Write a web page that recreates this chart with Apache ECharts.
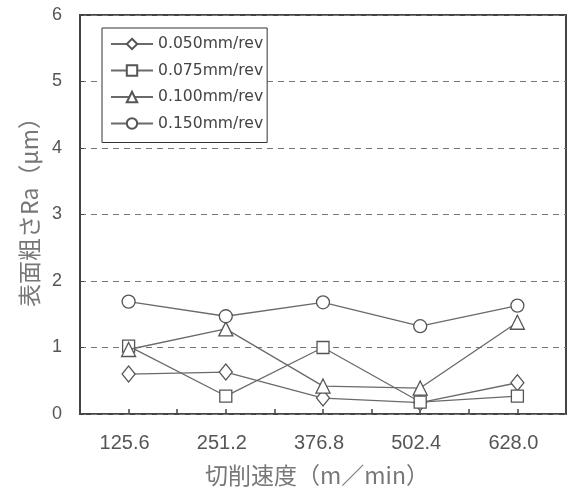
<!DOCTYPE html>
<html><head><meta charset="utf-8">
<script src="https://cdn.jsdelivr.net/npm/echarts@6/dist/echarts.min.js"></script>
<style>html,body{margin:0;padding:0;background:#fff}#c{width:570px;height:492px}</style>
</head><body><div id="c"></div>
<script>
const categories = ['125.6', '251.2', '376.8', '502.4', '628.0'];
const seriesNames = ['0.050mm/rev', '0.075mm/rev', '0.100mm/rev', '0.150mm/rev'];
const feed050 = [0.60, 0.63, 0.24, 0.17, 0.47];
const feed075 = [1.02, 0.27, 1.00, 0.18, 0.27];
const feed100 = [0.97, 1.28, 0.42, 0.39, 1.38];
const feed150 = [1.69, 1.47, 1.68, 1.32, 1.63];
const yTicks = [0, 1, 2, 3, 4, 5, 6];

const symbols = ['diamond', 'rect', 'triangle', 'circle'];
const sizes = [[13, 16], 12, 14, 13];
const values = [feed050, feed075, feed100, feed150];

const chart = echarts.init(document.getElementById('c'));
const lineColor = '#6a6a6a';
chart.setOption({
  animation: false,
  backgroundColor: '#fff',
  grid: { left: 80, right: 4, top: 15, bottom: 78, show: true, borderColor: '#444', borderWidth: 2,
          containLabel: false, outerBoundsMode: 'none' },
  legend: {
    orient: 'vertical', left: 102, top: 28, itemWidth: 42, itemHeight: 13, itemGap: 10.5,
    padding: [8, 4, 11, 8],
    borderColor: '#333', borderWidth: 1, backgroundColor: '#fff',
    textStyle: { fontFamily: 'DejaVu Sans', fontSize: 15.6, color: '#444' },
    data: seriesNames
  },
  xAxis: [{
    type: 'category', data: categories, boundaryGap: true,
    axisLine: { show: false },
    axisTick: { show: true, inside: true, length: 5, lineStyle: { color: '#444', width: 1.5 } },
    axisLabel: { fontFamily: 'Liberation Sans', fontSize: 20, color: '#555', margin: 19, padding: [0, 8, 0, 0] },
    name: '切削速度（m／min）', nameLocation: 'middle', nameGap: 50,
    nameTextStyle: { fontFamily: 'Noto Sans CJK JP', fontSize: 23, color: '#777', padding: [0, 12, 0, 0] }
  }, {
    type: 'category', data: categories, boundaryGap: true, position: 'bottom',
    axisLine: { show: false },
    axisTick: { show: true, inside: true, alignWithLabel: true, length: 5, lineStyle: { color: '#444', width: 1.5 } },
    axisLabel: { show: false }
  }],
  yAxis: {
    type: 'value', min: yTicks[0], max: yTicks[yTicks.length - 1], interval: 1,
    axisLine: { show: false },
    axisTick: { show: true, inside: true, length: 4, lineStyle: { color: '#444' } },
    axisLabel: { fontFamily: 'Liberation Sans', fontSize: 18, color: '#555', margin: 18 },
    splitLine: { show: true, lineStyle: { color: '#777', type: [6, 5], width: 1 } },
    name: '表面粗さRa（μm）', nameLocation: 'middle', nameGap: 35, nameRotate: 90,
    nameTextStyle: { fontFamily: 'Noto Sans CJK JP', fontSize: 23, color: '#777', padding: [0, 0, 0, 16] }
  },
  series: seriesNames.map((n, i) => ({
    name: n, type: 'line', xAxisIndex: 0, data: values[i],
    symbol: symbols[i], symbolSize: sizes[i], showAllSymbol: true,
    lineStyle: { color: lineColor, width: 1.3 },
    itemStyle: { color: '#fff', borderColor: '#555', borderWidth: 1.3 },
    z: 3 + i
  }))
});
</script></body></html>
